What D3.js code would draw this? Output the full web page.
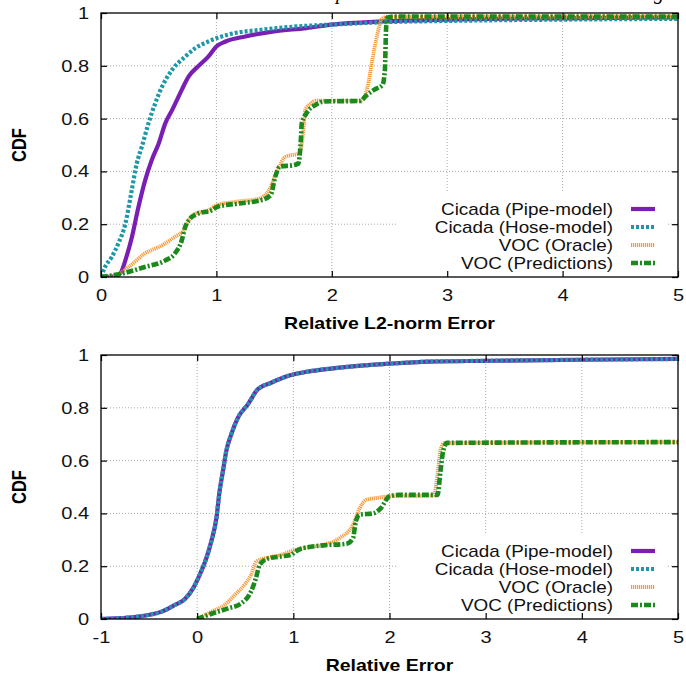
<!DOCTYPE html>
<html>
<head>
<meta charset="utf-8">
<script src="https://cdn.jsdelivr.net/npm/d3@7"></script>
<style>
  body { margin: 0; background: #fff; }
  svg { display: block; }
</style>
</head>
<body>
<svg id="chart"></svg>
<script>
// --- data (x, cdf) ---
const seriesNames = ['Cicada (Pipe-model)', 'Cicada (Hose-model)', 'VOC (Oracle)', 'VOC (Predictions)'];

const topPipe = [[0,0],[0.1,0.002],[0.165,0.013],[0.22,0.076],[0.267,0.15],[0.325,0.266],[0.383,0.367],[0.44,0.443],[0.5,0.506],[0.557,0.582],[0.617,0.633],[0.7,0.709],[0.76,0.76],[0.84,0.797],[0.93,0.835],[1.0,0.873],[1.08,0.892],[1.25,0.911],[1.5,0.93],[1.78,0.943],[2.0,0.956],[2.44,0.968],[3.0,0.975],[4.0,0.98],[5.0,0.983]];
const topHose = [[0,0],[0.035,0.038],[0.093,0.076],[0.15,0.127],[0.21,0.2],[0.267,0.33],[0.31,0.43],[0.354,0.494],[0.41,0.58],[0.47,0.658],[0.528,0.72],[0.617,0.785],[0.73,0.835],[0.817,0.867],[0.93,0.892],[1.1,0.918],[1.4,0.937],[1.69,0.949],[2.0,0.956],[2.44,0.965],[3.0,0.97],[4.0,0.975],[5.0,0.978]];
const topOracle = [[0,0],[0.12,0.006],[0.24,0.038],[0.38,0.089],[0.53,0.12],[0.64,0.152],[0.716,0.177],[0.76,0.215],[0.817,0.24],[0.93,0.253],[1.0,0.272],[1.165,0.285],[1.37,0.297],[1.455,0.329],[1.53,0.405],[1.6,0.456],[1.715,0.468],[1.76,0.582],[1.77,0.633],[1.82,0.658],[1.86,0.668],[2.25,0.668],[2.31,0.72],[2.35,0.82],[2.39,0.91],[2.43,0.975],[2.47,0.985],[5,0.987]];
const topPred = [[0,0],[0.18,0.013],[0.38,0.038],[0.557,0.063],[0.64,0.089],[0.7,0.139],[0.73,0.19],[0.77,0.22],[0.84,0.24],[0.96,0.253],[1.01,0.266],[1.18,0.278],[1.38,0.29],[1.47,0.31],[1.51,0.38],[1.55,0.418],[1.67,0.424],[1.71,0.43],[1.73,0.506],[1.74,0.582],[1.78,0.62],[1.86,0.652],[1.94,0.665],[2.25,0.667],[2.29,0.684],[2.37,0.71],[2.44,0.728],[2.46,0.785],[2.47,0.937],[2.48,0.982],[2.55,0.987],[5,0.987]];

const botPipe = [[-1,0],[-0.717,0.005],[-0.51,0.015],[-0.37,0.028],[-0.233,0.053],[-0.13,0.075],[-0.043,0.116],[0.026,0.167],[0.095,0.23],[0.147,0.294],[0.2,0.382],[0.233,0.484],[0.268,0.56],[0.302,0.635],[0.354,0.699],[0.423,0.762],[0.527,0.813],[0.63,0.87],[0.77,0.895],[0.94,0.92],[1.18,0.939],[1.48,0.952],[2.0,0.967],[2.41,0.975],[3,0.978],[4,0.982],[5,0.985]];
const botHose = [[-1,0],[-0.717,0.005],[-0.51,0.015],[-0.37,0.028],[-0.233,0.053],[-0.13,0.075],[-0.043,0.116],[0.026,0.167],[0.095,0.23],[0.147,0.294],[0.2,0.382],[0.233,0.484],[0.268,0.56],[0.302,0.635],[0.354,0.699],[0.423,0.762],[0.527,0.813],[0.63,0.87],[0.77,0.895],[0.94,0.92],[1.18,0.939],[1.48,0.952],[2.0,0.967],[2.41,0.975],[3,0.978],[4,0.982],[5,0.985]];
const botOracle = [[0,0],[0.15,0.028],[0.285,0.053],[0.39,0.091],[0.49,0.129],[0.56,0.167],[0.616,0.218],[0.73,0.232],[0.87,0.243],[1.0,0.26],[1.18,0.273],[1.31,0.281],[1.48,0.306],[1.62,0.357],[1.69,0.42],[1.76,0.452],[1.86,0.458],[2.0,0.465],[2.46,0.468],[2.5,0.55],[2.53,0.64],[2.57,0.667],[5,0.67]];
const botPred = [[0,0],[0.15,0.02],[0.32,0.04],[0.46,0.06],[0.56,0.104],[0.61,0.154],[0.65,0.205],[0.73,0.228],[0.87,0.237],[0.98,0.243],[1.01,0.252],[1.08,0.266],[1.31,0.279],[1.55,0.285],[1.62,0.306],[1.65,0.37],[1.69,0.395],[1.83,0.40],[1.91,0.42],[2.0,0.465],[2.1,0.47],[2.5,0.47],[2.53,0.56],[2.56,0.64],[2.6,0.667],[5,0.67]];

const topXTicks = [0, 1, 2, 3, 4, 5];
const botXTicks = [-1, 0, 1, 2, 3, 4, 5];
const yTicks = [0, 0.2, 0.4, 0.6, 0.8, 1];

const styles = [
    { color: '#7a1fb3', dash: null, width: 4.2 },
    { color: '#1e97a8', dash: '3,2', width: 4.2 },
    { color: '#f5993a', dash: '1.2,0.8', width: 3.8 },
    { color: '#1b891b', dash: '7,2,2,2', width: 4.6 }
];

const W = 686, H = 679;
const SX = 1.18; // reference text is stretched horizontally
const svg = d3.select('#chart').attr('width', W).attr('height', H);

// caption line of the page above the figure, cut off by the top edge
svg.append('text').attr('x', 336).attr('y', -1)
    .style('font-family', 'Liberation Serif, serif').style('font-style', 'italic')
    .style('font-size', '20px').text('p');
svg.append('text').attr('x', 654).attr('y', -1)
    .style('font-family', 'Liberation Serif, serif').style('font-style', 'italic')
    .style('font-size', '20px').text('g');

function panel(opts) {
    const { left, right, top, bottom, xDomain, xTicks, series, xTitle, id } = opts;
    const x = d3.scaleLinear().domain(xDomain).range([left, right]);
    const y = d3.scaleLinear().domain([0, 1]).range([bottom, top]);
    const g = svg.append('g');

    g.append('defs').append('clipPath').attr('id', id)
        .append('rect').attr('x', left).attr('y', top - 3)
        .attr('width', right - left).attr('height', bottom - top + 3);

    // grid
    const grid = g.append('g').attr('stroke', '#aaa').attr('stroke-width', 1)
        .attr('stroke-dasharray', '1,2');
    xTicks.slice(1, -1).forEach(t => grid.append('line')
        .attr('x1', x(t)).attr('x2', x(t)).attr('y1', top).attr('y2', bottom));
    yTicks.slice(1, -1).forEach(t => grid.append('line')
        .attr('x1', left).attr('x2', right).attr('y1', y(t)).attr('y2', y(t)));

    // opaque legend box
    g.append('rect').attr('x', left + 295).attr('y', bottom - 84)
        .attr('width', right - left - 305).attr('height', 84).attr('fill', '#fff');

    const line = d3.line().curve(d3.curveMonotoneX).x(d => x(d[0])).y(d => y(d[1]));
    const lines = g.append('g').attr('clip-path', `url(#${id})`);
    series.forEach((s, i) => {
        lines.append('path').datum(s)
            .attr('fill', 'none')
            .attr('stroke', styles[i].color)
            .attr('stroke-width', styles[i].width)
            .attr('stroke-dasharray', styles[i].dash)
            .attr('d', line);
    });

    // axes with inward, mirrored ticks
    const fmt = d => String(d);
    const axB = g.append('g').attr('transform', `translate(0,${bottom})`)
        .call(d3.axisBottom(x).tickValues(xTicks).tickSizeInner(-6).tickSizeOuter(0).tickPadding(12).tickFormat(fmt));
    const axL = g.append('g').attr('transform', `translate(${left},0)`)
        .call(d3.axisLeft(y).tickValues(yTicks).tickSizeInner(-6).tickSizeOuter(0).tickPadding(10).tickFormat(fmt));
    g.append('g').attr('transform', `translate(0,${top})`)
        .call(d3.axisTop(x).tickValues(xTicks).tickSizeInner(-6).tickSizeOuter(0).tickFormat(''));
    g.append('g').attr('transform', `translate(${right},0)`)
        .call(d3.axisRight(y).tickValues(yTicks).tickSizeInner(-6).tickSizeOuter(0).tickFormat(''));
    g.selectAll('.domain').remove();
    g.selectAll('.tick line').attr('stroke', '#000').attr('stroke-width', 1.2);
    [axB, axL].forEach(a => a.selectAll('text')
        .style('font-family', 'Liberation Sans, Arial, sans-serif')
        .style('font-size', '17px').attr('fill', '#111')
        .attr('transform', `scale(${SX},1)`));
    axL.selectAll('text').attr('x', -10);

    g.append('rect').attr('x', left).attr('y', top)
        .attr('width', right - left).attr('height', bottom - top)
        .attr('fill', 'none').attr('stroke', '#000').attr('stroke-width', 1.3);

    // axis titles
    g.append('text')
        .attr('transform', `translate(${(left + right) / 2},${bottom + 52}) scale(${SX},1)`)
        .attr('text-anchor', 'middle')
        .style('font-family', 'Liberation Sans, Arial, sans-serif')
        .style('font-weight', 'bold').style('font-size', '16.5px').text(xTitle);
    g.append('text')
        .attr('transform', `translate(26,${(top + bottom) / 2}) scale(${SX},1) rotate(-90)`)
        .attr('text-anchor', 'middle')
        .style('font-family', 'Liberation Sans, Arial, sans-serif')
        .style('font-weight', 'bold').style('font-size', '16.5px').text('CDF');

    // legend
    const leg = g.append('g');
    seriesNames.forEach((name, i) => {
        const ly = bottom - 68 + i * 18;
        leg.append('text')
            .attr('transform', `translate(${right - 65},${ly}) scale(${SX},1)`)
            .attr('text-anchor', 'end').attr('dy', '0.35em')
            .style('font-family', 'Liberation Sans, Arial, sans-serif')
            .style('font-size', '16px').attr('fill', '#111').text(name);
        leg.append('line')
            .attr('x1', right - 47).attr('x2', right - 23).attr('y1', ly).attr('y2', ly)
            .attr('stroke', styles[i].color).attr('stroke-width', styles[i].width)
            .attr('stroke-dasharray', styles[i].dash);
    });
}

panel({ id: 'clipTop', left: 101, right: 678, top: 13, bottom: 277, xDomain: [0, 5], xTicks: topXTicks,
    series: [topPipe, topHose, topOracle, topPred], xTitle: 'Relative L2-norm Error' });
panel({ id: 'clipBot', left: 101, right: 678, top: 355, bottom: 619, xDomain: [-1, 5], xTicks: botXTicks,
    series: [botPipe, botHose, botOracle, botPred], xTitle: 'Relative Error' });
</script>
</body>
</html>
